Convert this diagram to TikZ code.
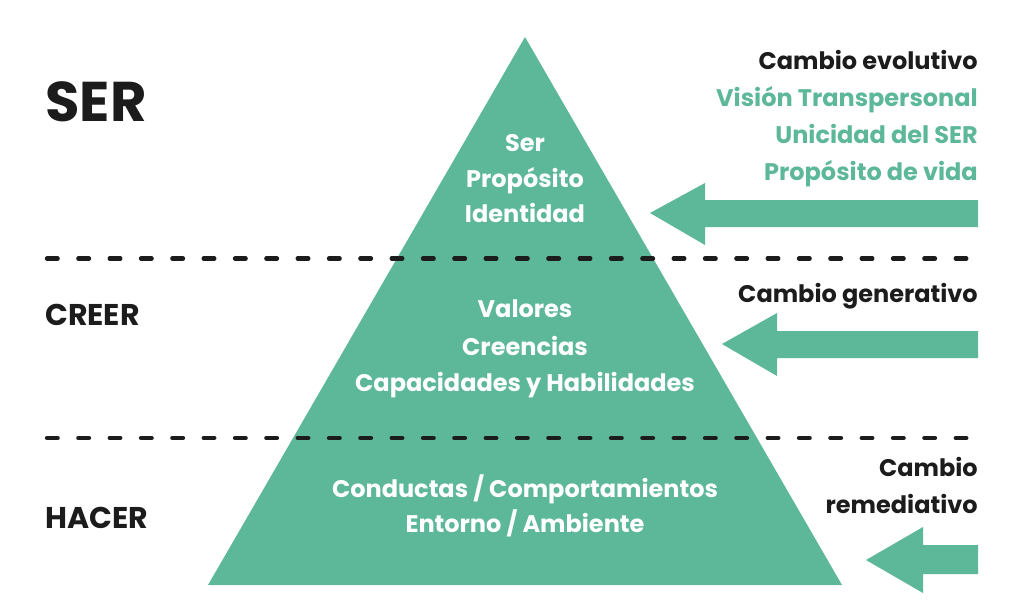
\documentclass[tikz,border=0pt]{standalone}
\usepackage{fontspec}
\setmainfont{Poppins}
\definecolor{pgreen}{RGB}{93,183,153}
\definecolor{pblack}{RGB}{28,28,28}
\tikzset{
  lvl/.style={font=\fontsize{22.5}{28}\selectfont\bfseries, text=pblack, anchor=base west, inner sep=0pt},
  rt/.style={font=\fontsize{18}{28}\selectfont\bfseries, anchor=base east, inner sep=0pt},
  inn/.style={font=\fontsize{18}{28}\selectfont\bfseries, text=white, anchor=base, inner sep=0pt},
  sep/.style={pblack, line width=3.2pt, line cap=round, dash pattern=on 8pt off 15.5pt},
  fatarrow/.style={fill=pgreen, draw=none}
}
\begin{document}
\begin{tikzpicture}[x=0.75pt,y=-0.75pt]
\useasboundingbox (0,0) rectangle (1024,614);
% pyramid
\fill[pgreen] (525,37) -- (842,585) -- (208,585) -- cycle;
% separators
\draw[sep] (47,258.5) -- (980,258.5);
\draw[sep] (47,438) -- (980,438);
% arrows
\fill[fatarrow] (978,200) -- (705,200) -- (705,183) -- (650,213) -- (705,245) -- (705,227) -- (978,227) -- cycle;
\fill[fatarrow] (978,331) -- (777,331) -- (777,313) -- (722,344) -- (777,376) -- (777,358) -- (978,358) -- cycle;
\fill[fatarrow] (978,545) -- (923,545) -- (923,527) -- (866,560) -- (923,593) -- (923,574) -- (978,574) -- cycle;
% left labels
\node[lvl, font=\fontsize{42}{46}\selectfont\bfseries] (ser) at (45,121) {SER};
\node[lvl] (creer) at (45,325) {CREER};
\node[lvl] (hacer) at (45,528) {HACER};
% right labels
\node[rt, text=pblack] (ce) at (978,69) {Cambio evolutivo};
\node[rt, text=pgreen] (vt) at (978,106) {Visión Transpersonal};
\node[rt, text=pgreen] (us) at (978,143) {Unicidad del SER};
\node[rt, text=pgreen] (pv) at (978,180) {Propósito de vida};
\node[rt, text=pblack] (cg) at (978,302) {Cambio generativo};
\node[rt, text=pblack] (cr1) at (978,476) {Cambio};
\node[rt, text=pblack] (cr2) at (978,513) {remediativo};
% inner labels
\node[inn] (t1) at (525,151) {Ser};
\node[inn] (t2) at (525,187) {Propósito};
\node[inn] (t3) at (525,222) {Identidad};
\node[inn] (m1) at (525,317) {Valores};
\node[inn] (m2) at (525,355) {Creencias};
\node[inn] (m3) at (525,391) {Capacidades y Habilidades};
\node[inn] (b1) at (525,497) {Conductas / Comportamientos};
\node[inn] (b2) at (525,532) {Entorno / Ambiente};
\end{tikzpicture}
\end{document}
